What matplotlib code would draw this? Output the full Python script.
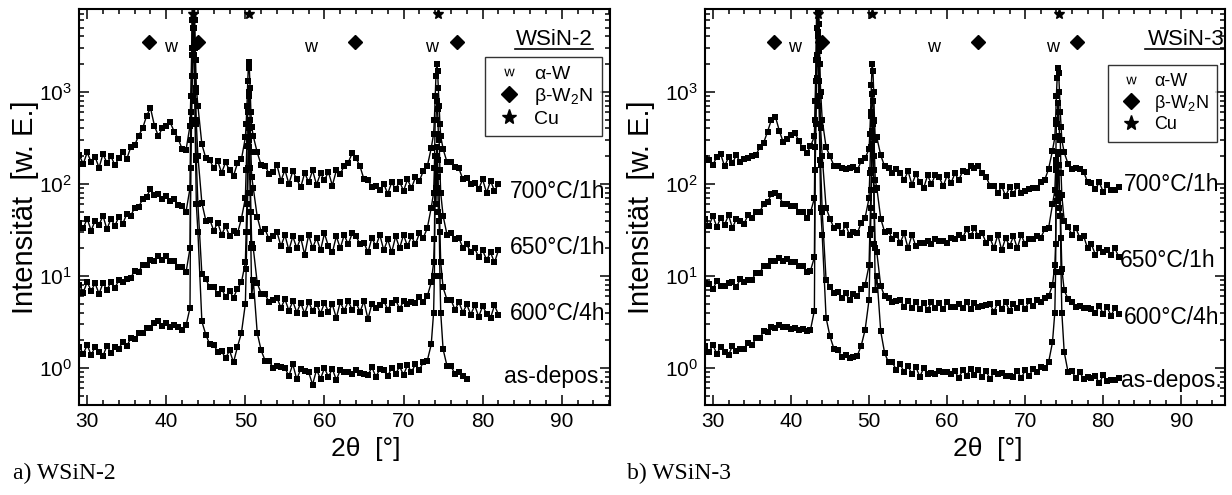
import numpy as np
import matplotlib
matplotlib.use("Agg")
import matplotlib.pyplot as plt
from matplotlib.lines import Line2D
from matplotlib.ticker import LogLocator, NullFormatter, MultipleLocator

plt.rcParams['font.family'] = ['Liberation Sans', 'DejaVu Sans']
plt.rcParams['mathtext.default'] = 'regular'

# Scan grid: 0.5 deg steps from 29 deg, plus finer steps across the sharp peaks
X_START = 29.0
X_STEP = 0.5
PEAK_X = [43.1, 43.2, 43.3, 43.4, 43.6, 43.7, 43.8,
          50.1, 50.2, 50.3, 50.4, 50.6, 50.7, 50.8,
          73.8, 73.9, 74.1, 74.2, 74.3, 74.4, 74.6, 74.7]

# ---------------- WSiN-2 ----------------
L700 = [205, 165, 220, 172, 196, 150, 212, 168, 200, 160,
        190, 222, 186, 250, 262, 335, 400, 545, 670, 430,
        330, 405, 430, 465, 370, 310, 240, 235, 430, 20000,
        700, 270, 190, 182, 148, 178, 132, 172, 140, 122,
        168, 185, 320, 1800, 330, 220, 160, 158, 128, 135,
        160, 108, 142, 100, 138, 112, 92, 132, 104, 140,
        98, 130, 110, 135, 96, 140, 128, 158, 170, 215,
        190, 155, 112, 110, 92, 96, 85, 100, 78, 104,
        88, 106, 84, 112, 90, 118, 108, 138, 155, 245,
        900, 700, 240, 172, 175, 152, 148, 112, 116, 100,
        102, 88, 112, 80, 108, 84, 100]
L700_PK = [900, 2500, 12000, 40000, 6000, 2200, 1100,
           450, 700, 1300, 2100, 1100, 600, 420,
           350, 500, 1500, 2000, 1700, 1100, 450, 330]

L650 = [38, 33, 42, 31, 40, 36, 45, 32, 42, 35,
        44, 37, 47, 45, 55, 56, 68, 72, 88, 76,
        77, 69, 73, 65, 69, 59, 58, 50, 90, 9000,
        200, 62, 40, 41, 31, 38, 28, 35, 27, 31,
        29, 42, 70, 900, 90, 44, 30, 32, 25, 27,
        30, 21, 28, 19, 27, 20, 26, 17, 28, 20,
        26, 19, 29, 21, 18, 27, 20, 28, 22, 29,
        27, 22, 23, 18, 26, 21, 28, 19, 25, 18,
        27, 20, 28, 21, 27, 22, 29, 26, 33, 55,
        500, 300, 45, 28, 29, 25, 26, 20, 22, 18,
        20, 16, 19, 15, 18, 14, 19]
L650_PK = [600, 1500, 6000, 20000, 3000, 1000, 450,
           140, 260, 600, 1000, 500, 220, 120,
           80, 150, 500, 800, 650, 350, 140, 80]

L600 = [8.0, 6.6, 8.6, 6.9, 8.3, 6.4, 8.4, 7.0, 8.7, 7.4,
        9.0, 8.7, 9.3, 9.6, 11.3, 11.0, 13.3, 13.0, 14.8, 14.4,
        16.4, 15.0, 16.6, 14.6, 14.6, 12.6, 12.5, 11.0, 20, 5000,
        60, 10.5, 9.2, 7.5, 7.6, 6.4, 7.3, 5.9, 6.9, 5.8,
        7.3, 8.5, 14, 500, 20, 8.4, 6.4, 6.3, 5.2, 5.5,
        5.8, 4.5, 5.6, 4.2, 5.3, 4.0, 5.1, 3.9, 5.2, 4.2,
        5.0, 3.9, 5.1, 4.1, 4.9, 3.5, 5.2, 4.2, 5.3, 4.3,
        5.1, 4.1, 5.3, 3.4, 5.0, 4.5, 4.8, 5.4, 4.3, 5.1,
        5.5, 4.4, 5.3, 5.0, 5.2, 5.1, 5.9, 5.2, 6.0, 8.5,
        200, 80, 7.5, 5.5, 5.5, 4.3, 5.2, 4.0, 4.9, 3.8,
        4.8, 3.6, 4.7, 3.9, 3.5, 4.8, 3.8]
L600_PK = [300, 900, 3000, 9000, 1500, 500, 180,
           30, 60, 150, 400, 150, 50, 22,
           14, 25, 90, 250, 180, 90, 30, 14]

LAS = [1.7, 1.42, 1.78, 1.38, 1.7, 1.48, 1.35, 1.75, 1.45, 1.68,
       1.62, 1.92, 1.72, 2.1, 2.05, 2.4, 2.4, 2.72, 2.7, 3.05,
       3.2, 2.85, 3.1, 2.8, 2.95, 2.8, 2.6, 2.9, 4.5, 2500,
       30, 3.2, 2.3, 1.8, 1.78, 1.5, 1.52, 1.28, 1.55, 1.15,
       1.7, 2.4, 5, 300, 9, 2.4, 1.55, 1.2, 1.2, 1.0,
       1.06, 1.02, 1.0, 0.82, 1.1, 0.75, 0.98, 0.92, 0.9, 0.66,
       0.96, 0.76, 1.0, 0.8, 0.98, 0.74, 0.95, 0.9, 0.9, 0.86,
       0.94, 0.88, 0.86, 0.84, 1.02, 0.8, 0.97, 0.94, 0.82, 1.0,
       0.86, 1.04, 0.84, 1.08, 0.9, 1.1, 0.95, 1.16, 1.2, 1.8,
       150, 40, 1.6, 1.05, 1.05, 0.86, 0.9, 0.82, 0.75]
LAS_PK = [150, 500, 1500, 5000, 800, 200, 60,
          12, 30, 80, 250, 80, 20, 6,
          4, 10, 60, 200, 120, 50, 10, 4]

# ---------------- WSiN-3 ----------------
R700 = [190, 182, 160, 198, 210, 155, 195, 168, 205, 172,
        185, 190, 200, 205, 250, 280, 370, 500, 540, 380,
        285, 305, 340, 360, 295, 245, 215, 255, 330, 15000,
        500, 250, 200, 158, 155, 150, 146, 148, 154, 142,
        176, 190, 240, 1700, 320, 205, 155, 150, 130, 145,
        132, 110, 138, 98, 128, 104, 90, 124, 100, 126,
        118, 94, 124, 102, 130, 110, 138, 134, 156, 150,
        156, 130, 120, 95, 96, 80, 94, 74, 92, 78,
        95, 80, 84, 88, 90, 90, 104, 110, 145, 230,
        900, 600, 220, 165, 145, 150, 145, 135, 105, 102,
        88, 104, 82, 98, 86, 86, 92]
R700_PK = [800, 2200, 10000, 35000, 5500, 2000, 1000,
           350, 600, 1200, 2000, 1000, 500, 300,
           320, 500, 1400, 1800, 1600, 1000, 420, 300]

R650 = [42, 35, 45, 34, 43, 36, 46, 33, 42, 40,
        37, 46, 43, 50, 50, 60, 64, 77, 80, 74,
        60, 60, 58, 57, 50, 50, 43, 49, 70, 8000,
        200, 55, 42, 33, 35, 29, 36, 28, 30, 29,
        38, 43, 70, 800, 90, 42, 30, 31, 25, 28,
        23, 29, 20, 28, 21, 23, 23, 24, 22, 25,
        24, 24, 23, 26, 25, 28, 26, 32, 27, 33,
        27, 29, 23, 26, 20, 28, 19, 26, 21, 27,
        20, 28, 22, 25, 25, 27, 26, 32, 33, 60,
        450, 300, 40, 34, 28, 33, 26, 27, 20, 22,
        17, 20, 18, 19, 17, 20, 16]
R650_PK = [500, 1300, 5000, 18000, 2800, 900, 400,
           130, 250, 550, 950, 480, 200, 110,
           85, 140, 450, 750, 600, 330, 130, 75]

R600 = [8.4, 8.2, 7.2, 8.8, 7.7, 7.8, 8.3, 8.6, 7.6, 9.2,
        8.6, 9.0, 9.0, 10.9, 10.8, 12.9, 12.8, 14.4, 14.4, 15.6,
        14.4, 15.4, 14.1, 14.2, 12.8, 12.8, 11.1, 11.4, 16, 4000,
        50, 9.0, 7.6, 6.5, 6.7, 5.7, 6.5, 5.5, 6.4, 6.1,
        7.3, 8.0, 13, 450, 18, 7.8, 6.0, 5.8, 5.2, 5.3,
        5.5, 4.6, 5.4, 4.5, 5.2, 4.4, 5.1, 4.3, 5.2, 4.5,
        5.1, 4.4, 5.2, 4.6, 4.6, 4.9, 4.5, 5.2, 4.4, 5.1,
        4.6, 4.7, 4.8, 4.9, 4.1, 5.1, 4.4, 5.2, 4.2, 5.0,
        4.5, 5.2, 4.4, 5.3, 4.7, 5.5, 5.2, 5.8, 6.0, 8.0,
        180, 70, 7.0, 5.6, 5.2, 4.6, 4.7, 4.5, 4.5, 4.4,
        4.0, 4.7, 3.9, 4.6, 3.7, 4.5, 3.9]
R600_PK = [250, 800, 2500, 8000, 1300, 450, 160,
           28, 55, 140, 380, 140, 45, 20,
           13, 22, 80, 220, 160, 80, 26, 12]

RAS = [1.72, 1.48, 1.78, 1.42, 1.7, 1.5, 1.38, 1.74, 1.52, 1.6,
       1.62, 1.88, 1.76, 2.1, 2.1, 2.5, 2.45, 2.8, 2.75, 2.9,
       2.8, 2.8, 2.65, 2.7, 2.6, 2.65, 2.5, 2.6, 4.2, 2200,
       28, 3.5, 2.2, 1.62, 1.58, 1.32, 1.38, 1.28, 1.32, 1.36,
       1.75, 2.6, 5.5, 320, 10, 2.5, 1.45, 1.15, 1.15, 0.95,
       1.1, 0.9, 1.05, 0.85, 1.03, 0.8, 1.0, 0.85, 0.88, 0.87,
       0.93, 0.9, 0.9, 0.87, 0.92, 0.78, 0.95, 0.82, 0.98, 0.83,
       0.95, 0.79, 0.92, 0.76, 0.9, 0.85, 0.88, 0.82, 0.82, 0.8,
       0.93, 0.77, 0.95, 0.82, 0.97, 0.9, 1.02, 1.0, 1.15, 1.9,
       160, 45, 1.5, 0.9, 0.93, 0.77, 0.9, 0.76, 0.8, 0.77,
       0.82, 0.68, 0.84, 0.72, 0.74, 0.74, 0.78]
RAS_PK = [140, 450, 1400, 4500, 700, 180, 55,
          13, 32, 85, 270, 85, 22, 7,
          4, 11, 65, 210, 130, 55, 11, 4]

CURVE_LABELS = ["700°C/1h", "650°C/1h", "600°C/4h", "as-depos."]

# Phase reflections marked along the top
W_POS = [40.5, 58.3, 73.5]
W2N_POS = [37.8, 44.0, 63.9, 76.7]
CU_POS = [43.4, 50.4, 74.3]


def series(base, peaks):
    xb = X_START + X_STEP * np.arange(len(base))
    x = np.concatenate([xb, PEAK_X])
    y = np.concatenate([np.asarray(base, float), np.asarray(peaks, float)])
    order = np.argsort(x)
    return x[order], y[order]


fig = plt.figure(figsize=(12.32, 4.95), dpi=100)

panels = [
    dict(rect=[0.0641, 0.1818, 0.4310, 0.8000], xlim=(28.96, 96.1),
         data=[(L700, L700_PK), (L650, L650_PK), (L600, L600_PK), (LAS, LAS_PK)],
         name="WSiN-2", caption="a) WSiN-2", cap_x=13 / 1232,
         ylab_x=25 / 1232, xlab_x=366 / 1232,
         title_x=0.968, ul=(0.821, 0.968),
         leg_anchor=(0.985, 0.879), leg_fs=14,
         lab_pos=[(0.991, 0.538), (0.991, 0.399), (0.991, 0.232), (0.991, 0.071)]),
    dict(rect=[0.5722, 0.1818, 0.4221, 0.8000], xlim=(28.98, 95.6),
         data=[(R700, R700_PK), (R650, R650_PK), (R600, R600_PK), (RAS, RAS_PK)],
         name="WSiN-3", caption="b) WSiN-3", cap_x=627 / 1232,
         ylab_x=641 / 1232, xlab_x=988 / 1232,
         title_x=1.0, ul=(0.846, 1.0),
         leg_anchor=(0.985, 0.859), leg_fs=13,
         lab_pos=[(0.990, 0.556), (0.981, 0.366), (0.990, 0.222), (0.994, 0.063)]),
]

for p in panels:
    ax = fig.add_axes(p["rect"])
    ax.set_yscale("log")
    for base, pk in p["data"]:
        x, y = series(base, pk)
        ax.plot(x, y, "-", color="black", lw=1.0, marker="s", ms=3.8, mew=0)

    ax.set_xlim(*p["xlim"])
    ax.set_ylim(0.396, 7950)
    ax.xaxis.set_major_locator(MultipleLocator(10))
    ax.xaxis.set_minor_locator(MultipleLocator(2))
    ax.yaxis.set_major_locator(LogLocator(base=10, numticks=10))
    ax.yaxis.set_minor_locator(LogLocator(base=10, subs=np.arange(2, 10), numticks=20))
    ax.yaxis.set_minor_formatter(NullFormatter())
    ax.tick_params(which="both", direction="in", top=True, right=True,
                   labelsize=15, width=1.1, color="black")
    ax.tick_params(which="major", length=7, pad=5)
    ax.tick_params(which="minor", length=3.5)
    for s in ax.spines.values():
        s.set_linewidth(1.5)

    # phase markers
    ax.plot(W2N_POS, [3500] * len(W2N_POS), "D", color="black", ms=7, ls="none")
    ax.plot(CU_POS, [7000] * len(CU_POS), "*", color="black", ms=8, ls="none")
    for xw in W_POS:
        ax.text(xw, 3000, "w", ha="center", va="center", fontsize=13)

    # sample name, underlined
    ax.text(p["title_x"], 0.922, p["name"], transform=ax.transAxes,
            ha="right", va="center", fontsize=16)
    ax.plot(p["ul"], [0.898, 0.898], transform=ax.transAxes, color="black",
            lw=1.2, clip_on=False)

    handles = [
        Line2D([], [], marker=r"$w$", ls="none", color="black", ms=7.5, mew=0),
        Line2D([], [], marker="D", ls="none", color="black", ms=8),
        Line2D([], [], marker="*", ls="none", color="black", ms=11),
    ]
    leg = ax.legend(handles, ["α-W", "β-W$_2$N", "Cu"], loc="upper right",
                    bbox_to_anchor=p["leg_anchor"], borderaxespad=0,
                    fontsize=p["leg_fs"], frameon=True, fancybox=False,
                    edgecolor="black", labelspacing=0.15, handletextpad=0.5,
                    handlelength=1.6, borderpad=0.45)
    leg.get_frame().set_linewidth(1.0)

    for (lx, ly), lab in zip(p["lab_pos"], CURVE_LABELS):
        ax.text(lx, ly, lab, transform=ax.transAxes, ha="right", va="center",
                fontsize=16.5)

    fig.text(p["ylab_x"], 0.582, "Intensität  [w. E.]", rotation=90,
             ha="center", va="center", fontsize=21)
    fig.text(p["xlab_x"], 1 - 449 / 495, "2θ  [°]", ha="center", va="center",
             fontsize=19)
    fig.text(p["cap_x"], 1 - 473 / 495, p["caption"], ha="left", va="center",
             fontsize=17, family=["Liberation Serif"])

fig.savefig("out.png", dpi=100)
